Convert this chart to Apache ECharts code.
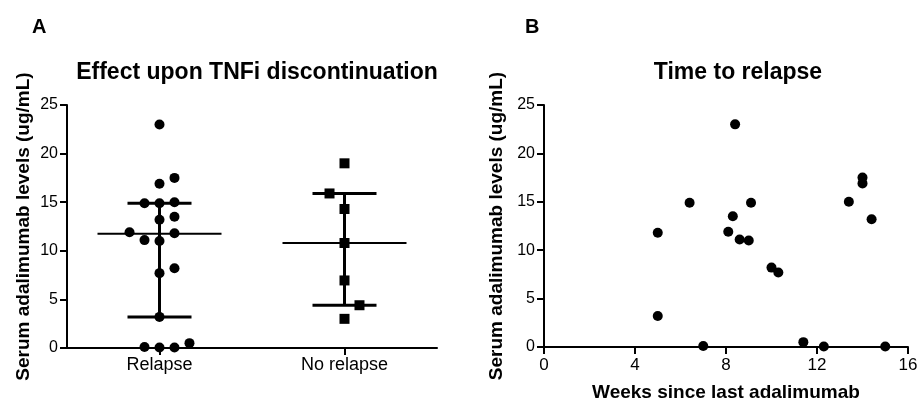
<!DOCTYPE html>
<html>
<head>
<meta charset="utf-8">
<script src="https://cdn.jsdelivr.net/npm/echarts@6/dist/echarts.min.js"></script>
<style>html,body{margin:0;padding:0;background:#fff;}#c{width:919px;height:404px;}</style>
</head>
<body>
<div id="c"></div>
<script>
// ---- data ----
const groups = ['Relapse', 'No relapse'];
const yTicks = [0, 5, 10, 15, 20, 25];
const weekTicks = [0, 4, 8, 12, 16];
// relapse patients: weeks since last dose and serum level (ug/mL)
const relapseWeeks  = [5.0, 5.0, 6.4, 7.0, 8.1, 8.3, 8.4, 8.6, 9.0, 9.1, 10.0, 10.3, 11.4, 12.3, 13.4, 14.0, 14.0, 14.4, 15.0];
const relapseLevels = [11.8, 3.2, 14.9, 0.1, 11.9, 13.5, 23.0, 11.1, 11.0, 14.9, 8.2, 7.7, 0.5, 0.05, 15.0, 17.5, 16.9, 13.2, 0.05];
// column-scatter slot (left/right offset index) of each relapse point in panel A
const relapseSlot   = [1, 0, -1, -1, -2, 1, 0, -1, 0, 0, 1, 0, 2, 0, 1, 1, 0, 0, 1];
// no relapse patients
const noRelapseLevels = [19.0, 15.9, 14.3, 10.8, 6.95, 4.4, 3.0];
const noRelapseSlot   = [0, -1, 0, 0, 0, 1, 0];
// median and interquartile range per group
const medians = [11.75, 10.8];
const q1s = [3.2, 4.4];
const q3s = [14.9, 15.9];

// ---- chart ----
const FONT = '"Liberation Sans", Arial, Helvetica, sans-serif';
const SLOT = 0.081;
const chart = echarts.init(document.getElementById('c'), null, {renderer: 'canvas'});

const relapsePts = relapseLevels.map((v, i) => [0 + relapseSlot[i] * SLOT, v]);
const noRelapsePts = noRelapseLevels.map((v, i) => [1 + noRelapseSlot[i] * SLOT, v]);
const summary = groups.map((g, i) => [i, medians[i], q1s[i], q3s[i]]);
const scatterB = relapseWeeks.map((w, i) => [w, relapseLevels[i]]);

const axisLineStyle = {show: true, onZero: false, lineStyle: {color: '#000', width: 2}};
const tickStyle = {show: true, length: 7, lineStyle: {color: '#000', width: 2}};
const labelStyle = {color: '#000', fontFamily: FONT, fontSize: 16};
const nameStyle = {color: '#000', fontFamily: FONT, fontSize: 19, fontWeight: 'bold'};
const markStyle = {color: '#000', opacity: 1};

const yAxisCommon = {
  type: 'value', min: yTicks[0], max: yTicks[yTicks.length - 1], interval: yTicks[1] - yTicks[0],
  name: 'Serum adalimumab levels (ug/mL)', nameLocation: 'middle', nameRotate: 90,
  nameTextStyle: nameStyle,
  axisLine: axisLineStyle, axisTick: tickStyle,
  axisLabel: Object.assign({margin: 9}, labelStyle),
  splitLine: {show: false}
};

chart.setOption({
  animation: false,
  backgroundColor: '#fff',
  title: [
    {text: 'A', left: 27, top: 12, textStyle: {fontFamily: FONT, fontSize: 20, fontWeight: 'bold', color: '#000'}},
    {text: 'B', left: 520, top: 12, textStyle: {fontFamily: FONT, fontSize: 20, fontWeight: 'bold', color: '#000'}},
    {text: 'Effect upon TNFi discontinuation', left: 252, top: 56, textAlign: 'center',
      textStyle: {fontFamily: FONT, fontSize: 23, fontWeight: 'bold', color: '#000'}},
    {text: 'Time to relapse', left: 733, top: 56, textAlign: 'center',
      textStyle: {fontFamily: FONT, fontSize: 23, fontWeight: 'bold', color: '#000'}}
  ],
  grid: [
    {left: 67, right: 482, top: 105, bottom: 56, containLabel: false, outerBoundsMode: 'none'},
    {left: 544, right: 11, top: 105, bottom: 57, containLabel: false, outerBoundsMode: 'none'}
  ],
  xAxis: [
    {gridIndex: 0, type: 'category', data: groups, boundaryGap: true,
      axisLine: axisLineStyle, axisTick: Object.assign({alignWithLabel: true}, tickStyle),
      axisLabel: Object.assign({margin: 8}, labelStyle, {fontSize: 18}), splitLine: {show: false}},
    {gridIndex: 0, type: 'value', min: -0.5, max: 1.5, show: false},
    {gridIndex: 1, type: 'value', min: weekTicks[0], max: weekTicks[weekTicks.length - 1], interval: weekTicks[1] - weekTicks[0],
      name: 'Weeks since last adalimumab', nameLocation: 'middle', nameGap: 36, nameTextStyle: nameStyle,
      axisLine: axisLineStyle, axisTick: tickStyle,
      axisLabel: Object.assign({margin: 10}, labelStyle, {fontSize: 17}), splitLine: {show: false}}
  ],
  yAxis: [
    Object.assign({gridIndex: 0, nameGap: 34}, yAxisCommon),
    Object.assign({gridIndex: 1, nameGap: 38}, yAxisCommon)
  ],
  series: [
    {type: 'scatter', xAxisIndex: 1, yAxisIndex: 0, data: relapsePts, symbol: 'circle', symbolSize: 10,
      itemStyle: markStyle},
    {type: 'scatter', xAxisIndex: 1, yAxisIndex: 0, data: noRelapsePts, symbol: 'rect', symbolSize: 10,
      itemStyle: markStyle},
    {type: 'custom', xAxisIndex: 1, yAxisIndex: 0, data: summary, z: 5,
      renderItem: function (params, api) {
        const x = api.value(0);
        const pm = api.coord([x, api.value(1)]);
        const pl = api.coord([x, api.value(2)]);
        const pu = api.coord([x, api.value(3)]);
        const hw = 62, cw = 32;
        const s3 = {stroke: '#000', lineWidth: 3};
        const s2 = {stroke: '#000', lineWidth: 2};
        return {type: 'group', children: [
          {type: 'line', shape: {x1: pl[0], y1: pl[1], x2: pu[0], y2: pu[1]}, style: s3},
          {type: 'line', shape: {x1: pl[0] - cw, y1: pl[1], x2: pl[0] + cw, y2: pl[1]}, style: s3},
          {type: 'line', shape: {x1: pu[0] - cw, y1: pu[1], x2: pu[0] + cw, y2: pu[1]}, style: s3},
          {type: 'line', shape: {x1: pm[0] - hw, y1: pm[1], x2: pm[0] + hw, y2: pm[1]}, style: s2}
        ]};
      }},
    {type: 'scatter', xAxisIndex: 2, yAxisIndex: 1, data: scatterB, symbol: 'circle', symbolSize: 10,
      itemStyle: markStyle}
  ]
});
</script>
</body>
</html>
